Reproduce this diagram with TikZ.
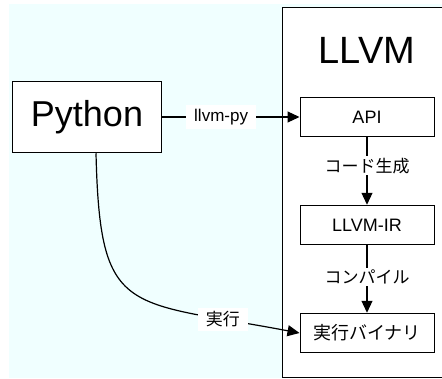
\documentclass[tikz,border=0pt]{standalone}
\usepackage{fontspec}
\setmainfont{Liberation Sans}
\newfontfamily\jp{Noto Sans CJK JP}
\usetikzlibrary{positioning, arrows.meta}
\definecolor{bgcyan}{HTML}{F0FFFF}

\begin{document}
\begin{tikzpicture}[
    x=1pt, y=-1pt,
    node distance=108pt,
    on grid,
    box/.style={draw=black, fill=white, line width=1pt, minimum width=134pt, minimum height=39.5pt, font=\fontsize{18}{20}\selectfont},
    lbl/.style={fill=white, inner xsep=8pt, inner ysep=4pt, font=\fontsize{17}{19}\selectfont},
    every edge/.append style={line width=1.2pt, -{Triangle[length=12pt,width=11pt]}}
]

   % page and background
   \useasboundingbox (0,0) rectangle (442,378);
   \clip (0,0) rectangle (442,378);
   \fill[bgcyan] (9,4) rectangle (442,378);

   % LLVM frame
   \node[draw=black, fill=white, line width=1pt, minimum width=180pt, minimum height=370pt] (llvm) at (372,192) {};
   \node[font=\fontsize{38}{42}\selectfont] (title) at (367,50) {LLVM};

   % blocks
   \node[box, minimum width=149pt, minimum height=71.5pt, font=\fontsize{36}{40}\selectfont] (python) at (87,117) {Python};
   \node[box] (api) at (367,117) {API};
   \node[box] (ir) [below=of api] {LLVM-IR};
   \node[box] (exe) [below=of ir] {\jp 実行バイナリ};

   % arrows
   \path
   (python) edge node[lbl, pos=0.43] {llvm-py} (api)
   (api) edge node[lbl, inner ysep=2pt, pos=0.42] {\jp コード生成} (ir)
   (ir) edge node[lbl, inner ysep=2pt, pos=0.47] {\jp コンパイル} (exe)
   ([xshift=9pt]python.south) edge[to path={.. controls (100,318) and (125,300) .. (\tikztotarget) \tikztonodes}] node[lbl, pos=0.83] {\jp 実行} (exe.west);
\end{tikzpicture}
\end{document}
